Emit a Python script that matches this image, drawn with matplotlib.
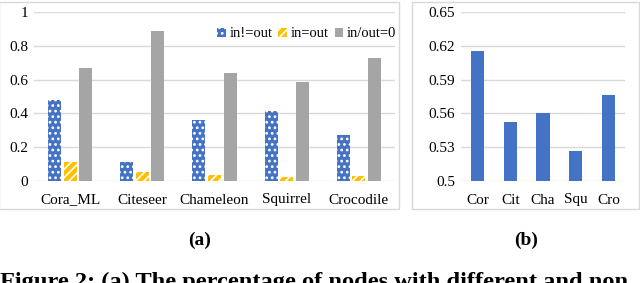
import numpy as np
import matplotlib

matplotlib.use("Agg")
import matplotlib.pyplot as plt
from matplotlib.patches import Patch, Rectangle
from matplotlib.ticker import FormatStrFormatter

plt.rcParams["font.family"] = ["Liberation Serif", "DejaVu Serif"]
plt.rcParams["hatch.linewidth"] = 1.2

# panel (a)
datasets = ["Cora_ML", "Citeseer", "Chameleon", "Squirrel", "Crocodile"]
in_ne_out = [0.48, 0.112, 0.363, 0.412, 0.272]
in_eq_out = [0.11, 0.051, 0.034, 0.024, 0.030]
in_out_zero = [0.669, 0.885, 0.637, 0.588, 0.726]
series_labels = ["in!=out", "in=out", "in/out=0"]

# panel (b)
short_names = ["Cor", "Cit", "Cha", "Squ", "Cro"]
ratio = [0.615, 0.552, 0.560, 0.527, 0.576]

BLUE = "#4472C4"
YELLOW = "#FFC000"
GRAY = "#A5A5A5"
GRID = "#D9D9D9"

W, H = 640, 283
fig = plt.figure(figsize=(W / 100, H / 100), dpi=100)


def px_axes(x0, y0, x1, y1):
    # pixel box (top-left origin) -> figure axes
    return fig.add_axes([x0 / W, 1 - y1 / H, (x1 - x0) / W, (y1 - y0) / H])


def style(ax):
    for s in ax.spines.values():
        s.set_visible(False)
    ax.tick_params(length=0, labelsize=11, pad=4)
    ax.yaxis.grid(True, color=GRID, linewidth=1)
    ax.set_axisbelow(True)


# panel frames
fig.patches.append(Rectangle((-1 / W, 1 - 209 / H), 400 / W, 207 / H,
                             transform=fig.transFigure, fill=False,
                             edgecolor=GRID, linewidth=1))
fig.patches.append(Rectangle((412 / W, 1 - 209 / H), 227 / W, 207 / H,
                             transform=fig.transFigure, fill=False,
                             edgecolor=GRID, linewidth=1))

# (a)
ax1 = px_axes(34, 12, 395, 181)
style(ax1)
x = np.arange(len(datasets))
bw = 0.18
off = 0.215
ax1.bar(x - off, in_ne_out, bw, color=BLUE, edgecolor="white", linewidth=0, hatch="...")
ax1.bar(x, in_eq_out, bw, color=YELLOW, edgecolor="white", linewidth=0, hatch="////")
ax1.bar(x + off, in_out_zero, bw, color=GRAY, linewidth=0)
ax1.set_xlim(-0.5, len(datasets) - 0.5)
ax1.set_ylim(0, 1)
ax1.set_yticks([0, 0.2, 0.4, 0.6, 0.8, 1])
ax1.yaxis.set_major_formatter(FormatStrFormatter("%g"))
ax1.set_xticks(x)
ax1.set_xticklabels(datasets)
ax1.tick_params(axis="x", pad=9)

handles = [
    Patch(facecolor=BLUE, edgecolor="white", linewidth=0, hatch="..."),
    Patch(facecolor=YELLOW, edgecolor="white", linewidth=0, hatch="////"),
    Patch(facecolor=GRAY, linewidth=0),
]
ax1.legend(handles, series_labels, loc="center right", bbox_to_anchor=(1.02, 0.87),
           ncol=3, frameon=False, fontsize=10.5, handlelength=0.6, handleheight=0.6,
           handletextpad=0.25, columnspacing=0.4, borderaxespad=0)

# (b)
ax2 = px_axes(461, 12, 625, 181)
style(ax2)
xb = np.arange(len(short_names))
ax2.bar(xb, ratio, 0.4, color=BLUE, linewidth=0)
ax2.set_xlim(-0.5, len(short_names) - 0.5)
ax2.set_ylim(0.5, 0.65)
ax2.set_yticks([0.5, 0.53, 0.56, 0.59, 0.62, 0.65])
ax2.yaxis.set_major_formatter(FormatStrFormatter("%g"))
ax2.set_xticks(xb)
ax2.set_xticklabels(short_names)
ax2.tick_params(axis="x", pad=9)

# sub captions
fig.text(200 / W, 1 - 240 / H, "(a)", ha="center", va="center", fontsize=14, fontweight="bold")
fig.text(526 / W, 1 - 240 / H, "(b)", ha="center", va="center", fontsize=14, fontweight="bold")
fig.text(0, 1 - 272 / H, "Figure 2: (a) The percentage of nodes with different and non",
         ha="left", va="top", fontsize=17.6, fontweight="bold")

fig.savefig("out.png", dpi=100)
